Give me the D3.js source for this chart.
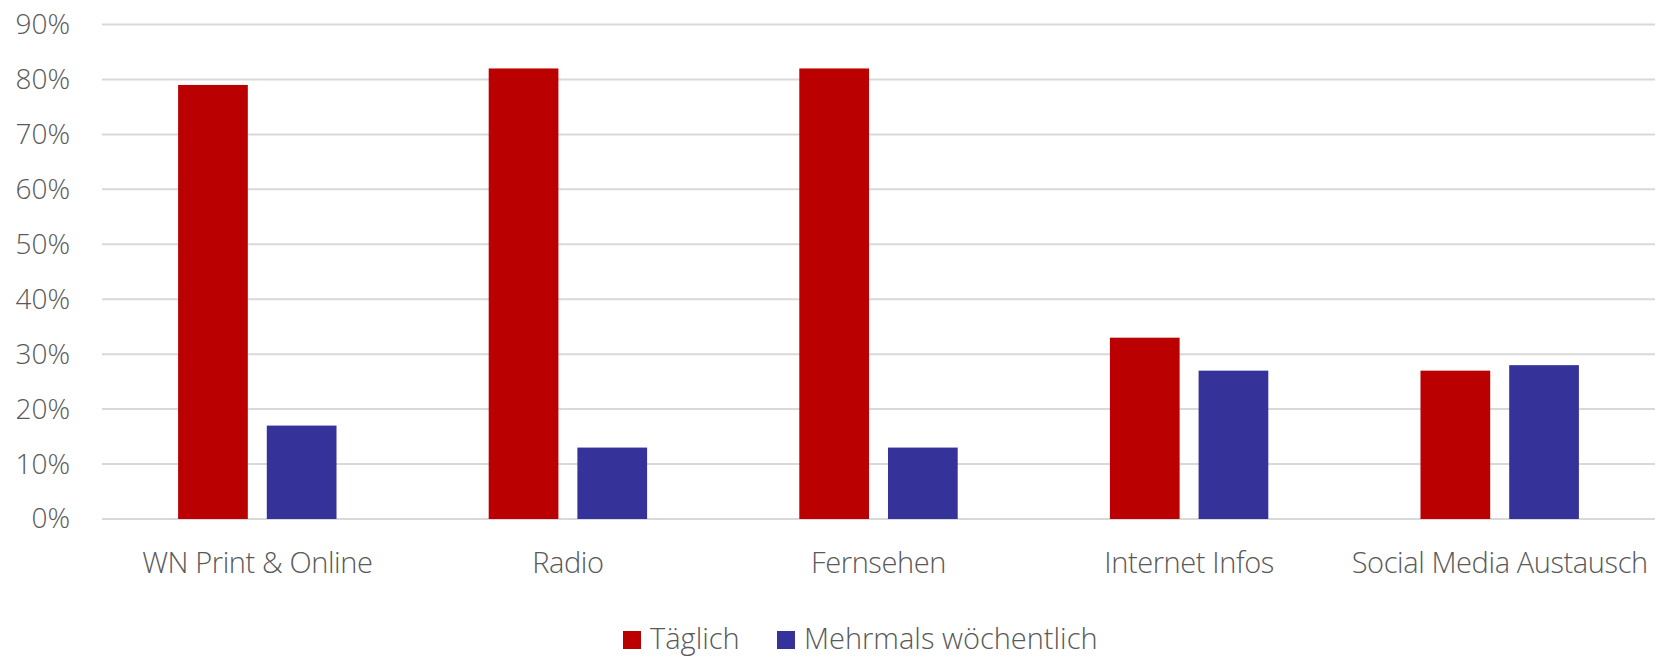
<!DOCTYPE html>
<html>
<head>
<meta charset="utf-8">
<script src="https://cdn.jsdelivr.net/npm/d3@7"></script>
<style>
	body { margin: 0; background: #fff; }
	text { font-family: "Open Sans", sans-serif; font-weight: 300; fill: #595959; }
</style>
</head>
<body>
<svg class="chart"></svg>
<script>
var categories = ["WN Print & Online", "Radio", "Fernsehen", "Internet Infos", "Social Media Austausch"];
var seriesNames = ["Täglich", "Mehrmals wöchentlich"];
var taeglich = [79, 82, 82, 33, 27];
var mehrmals = [17, 13, 13, 27, 28];
var yTicks = [0, 10, 20, 30, 40, 50, 60, 70, 80, 90];
var colors = ["#BA0000", "#35339A"];

var width = 1661;
var height = 657;

var svg = d3.select(".chart")
	.attr("width", width)
	.attr("height", height);

var x0 = d3.scaleBand()
	.domain(categories)
	.range([102, 1655]);

var x1 = d3.scaleBand()
	.domain(seriesNames)
	.range([0, x0.bandwidth()])
	.paddingInner(0.214)
	.paddingOuter(0.858);

var y = d3.scaleLinear()
	.domain([0, 90])
	.range([519, 24.5]);

// gridlines
svg.append("g")
	.selectAll("line")
	.data(yTicks)
	.enter()
	.append("line")
		.attr("x1", 102)
		.attr("x2", 1655)
		.attr("y1", function(d) { return y(d); })
		.attr("y2", function(d) { return y(d); })
		.attr("stroke", "#d9d9d9")
		.attr("stroke-width", 2);

// y axis labels
var yAxis = d3.axisLeft(y)
	.tickValues(yTicks)
	.tickSize(0)
	.tickPadding(0)
	.tickFormat(function(d) { return d + "%"; });

svg.append("g")
	.attr("transform", "translate(70,0)")
	.call(yAxis)
	.call(function(g) { g.select(".domain").remove(); })
	.selectAll("text")
		.style("font-family", "Open Sans")
		.style("font-size", "28px")
		.attr("fill", "#595959");

// bars
var rows = categories.map(function(c, i) {
	return { cat: c, values: [taeglich[i], mehrmals[i]] };
});

var group = svg.append("g")
	.selectAll("g")
	.data(rows)
	.enter()
	.append("g")
		.attr("transform", function(d) { return "translate(" + x0(d.cat) + ",0)"; });

group.selectAll("rect")
	.data(function(d) { return d.values.map(function(v, i) { return { name: seriesNames[i], value: v, i: i }; }); })
	.enter()
	.append("rect")
		.attr("x", function(d) { return x1(d.name); })
		.attr("y", function(d) { return y(d.value); })
		.attr("width", x1.bandwidth())
		.attr("height", function(d) { return y(0) - y(d.value); })
		.attr("fill", function(d) { return colors[d.i]; });

// category labels
var xAxis = d3.axisBottom(x0)
	.tickSize(0)
	.tickPadding(0);

svg.append("g")
	.attr("transform", "translate(0,552)")
	.call(xAxis)
	.call(function(g) { g.select(".domain").remove(); })
	.selectAll("text")
		.style("font-family", "Open Sans")
		.style("font-size", "29px")
		.style("letter-spacing", "-0.4px")
		.attr("fill", "#595959")
		.attr("dy", "0.71em");

// legend
var legendX = [623, 777];
var legend = svg.append("g")
	.selectAll("g")
	.data(seriesNames)
	.enter()
	.append("g")
		.attr("transform", function(d, i) { return "translate(" + legendX[i] + ",631)"; });

legend.append("rect")
	.attr("width", 18)
	.attr("height", 18)
	.attr("fill", function(d, i) { return colors[i]; });

legend.append("text")
	.attr("x", 27)
	.attr("y", 17.5)
	.style("font-size", "29px")
	.text(function(d) { return d; });
</script>
</body>
</html>
